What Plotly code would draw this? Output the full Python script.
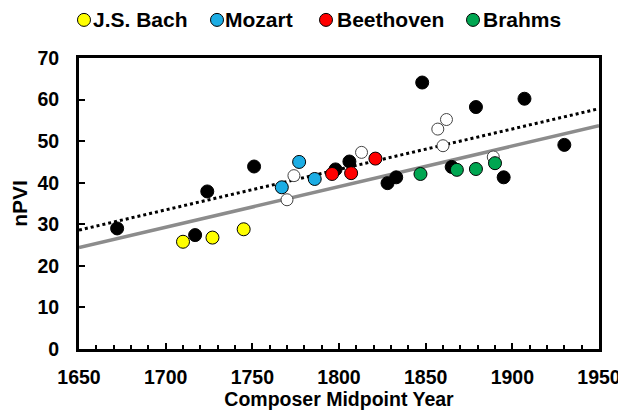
import plotly.graph_objects as go

# ---- data ----
bach_year = [1710, 1727, 1745]
bach_npvi = [25.8, 26.8, 28.8]

mozart_year = [1767, 1777, 1786]
mozart_npvi = [38.9, 45.0, 40.9]

beethoven_year = [1796, 1807, 1821]
beethoven_npvi = [42.1, 42.3, 45.8]

brahms_year = [1847, 1868, 1879, 1890]
brahms_npvi = [42.1, 43.1, 43.3, 44.7]

other_year = [1672, 1717, 1724, 1751, 1798, 1806, 1828, 1833, 1848, 1865, 1879, 1895, 1907, 1930]
other_npvi = [29.0, 27.4, 37.9, 43.9, 43.2, 45.1, 39.9, 41.3, 64.1, 43.8, 58.2, 41.3, 60.2, 49.1]

open_year = [1770, 1774, 1813, 1857, 1860, 1862, 1889]
open_npvi = [35.9, 41.7, 47.3, 52.9, 48.9, 55.2, 46.2]

trend_year = [1650, 1950]
trend_dotted = [28.6, 57.8]
trend_solid = [24.4, 53.7]

x_ticks = [1650, 1700, 1750, 1800, 1850, 1900, 1950]
y_ticks = [0, 10, 20, 30, 40, 50, 60, 70]

series_names = ["J.S. Bach", "Mozart", "Beethoven", "Brahms"]
series_colors = ["#FFFF00", "#1CADE4", "#FF0000", "#00A651"]
series_years = [bach_year, mozart_year, beethoven_year, brahms_year]
series_npvi = [bach_npvi, mozart_npvi, beethoven_npvi, brahms_npvi]

# legend layout (paper fractions)
legend_marker_x = [0.0096, 0.2654, 0.475, 0.7577]
legend_text_x = [0.024, 0.276, 0.493, 0.774]
legend_y = 1.131

FONT = "Liberation Sans, Arial, sans-serif"
MS = 13

fig = go.Figure()

fig.add_trace(go.Scatter(x=trend_year, y=trend_solid, mode="lines",
                         line=dict(color="#8c8c8c", width=3.5), showlegend=False, hoverinfo="skip"))
fig.add_trace(go.Scatter(x=trend_year, y=trend_dotted, mode="lines",
                         line=dict(color="black", width=3, dash="dot"), showlegend=False, hoverinfo="skip"))

fig.add_trace(go.Scatter(x=other_year, y=other_npvi, mode="markers", showlegend=False,
                         marker=dict(size=MS, color="black", line=dict(color="black", width=1))))
fig.add_trace(go.Scatter(x=open_year, y=open_npvi, mode="markers", showlegend=False,
                         marker=dict(size=MS - 1, color="white", line=dict(color="#444444", width=1))))

for name, xs, ys, col in zip(series_names, series_years, series_npvi, series_colors):
    fig.add_trace(go.Scatter(x=xs, y=ys, mode="markers", name=name, showlegend=False,
                             marker=dict(size=MS, color=col, line=dict(color="black", width=1))))

# custom legend
for name, col, mx, tx in zip(series_names, series_colors, legend_marker_x, legend_text_x):
    fig.add_shape(type="circle", xref="paper", yref="paper", xsizemode="pixel", ysizemode="pixel",
                  xanchor=mx, yanchor=legend_y, x0=-6.5, x1=6.5, y0=-6.5, y1=6.5,
                  fillcolor=col, line=dict(color="black", width=1))
    fig.add_annotation(text=name, xref="paper", yref="paper", x=tx, y=legend_y,
                       xanchor="left", yanchor="middle", showarrow=False,
                       font=dict(family=FONT, size=21, color="black", weight="bold"))

# page body has an 8px default margin: figure is sized/offset to compensate
fig.update_layout(
    width=618, height=406,
    margin=dict(l=71, r=27, t=50, b=65, autoexpand=False),
    paper_bgcolor="white", plot_bgcolor="white",
    showlegend=False,
    font=dict(family=FONT, size=19.5, color="black", weight="bold"),
    xaxis=dict(range=[1650, 1950], tickvals=x_ticks, ticks="inside", ticklen=6, tickwidth=2,
               tickcolor="black", showline=True, linecolor="black", linewidth=3, mirror=True,
               showgrid=False, zeroline=False, ticklabelstandoff=9,
               minor=dict(dtick=10, ticks="inside", ticklen=4, tickwidth=2, tickcolor="black"),
               title=dict(text="Composer Midpoint Year", font=dict(size=19.5, weight="bold"), standoff=4)),
    yaxis=dict(range=[0, 70], tickvals=y_ticks, ticks="inside", ticklen=6, tickwidth=2,
               tickcolor="black", showline=True, linecolor="black", linewidth=3, mirror=True,
               showgrid=False, zeroline=False, ticklabelstandoff=13,
               title=dict(text="nPVI", font=dict(size=21, weight="bold"), standoff=9)),
)

fig.write_html("out.html")
